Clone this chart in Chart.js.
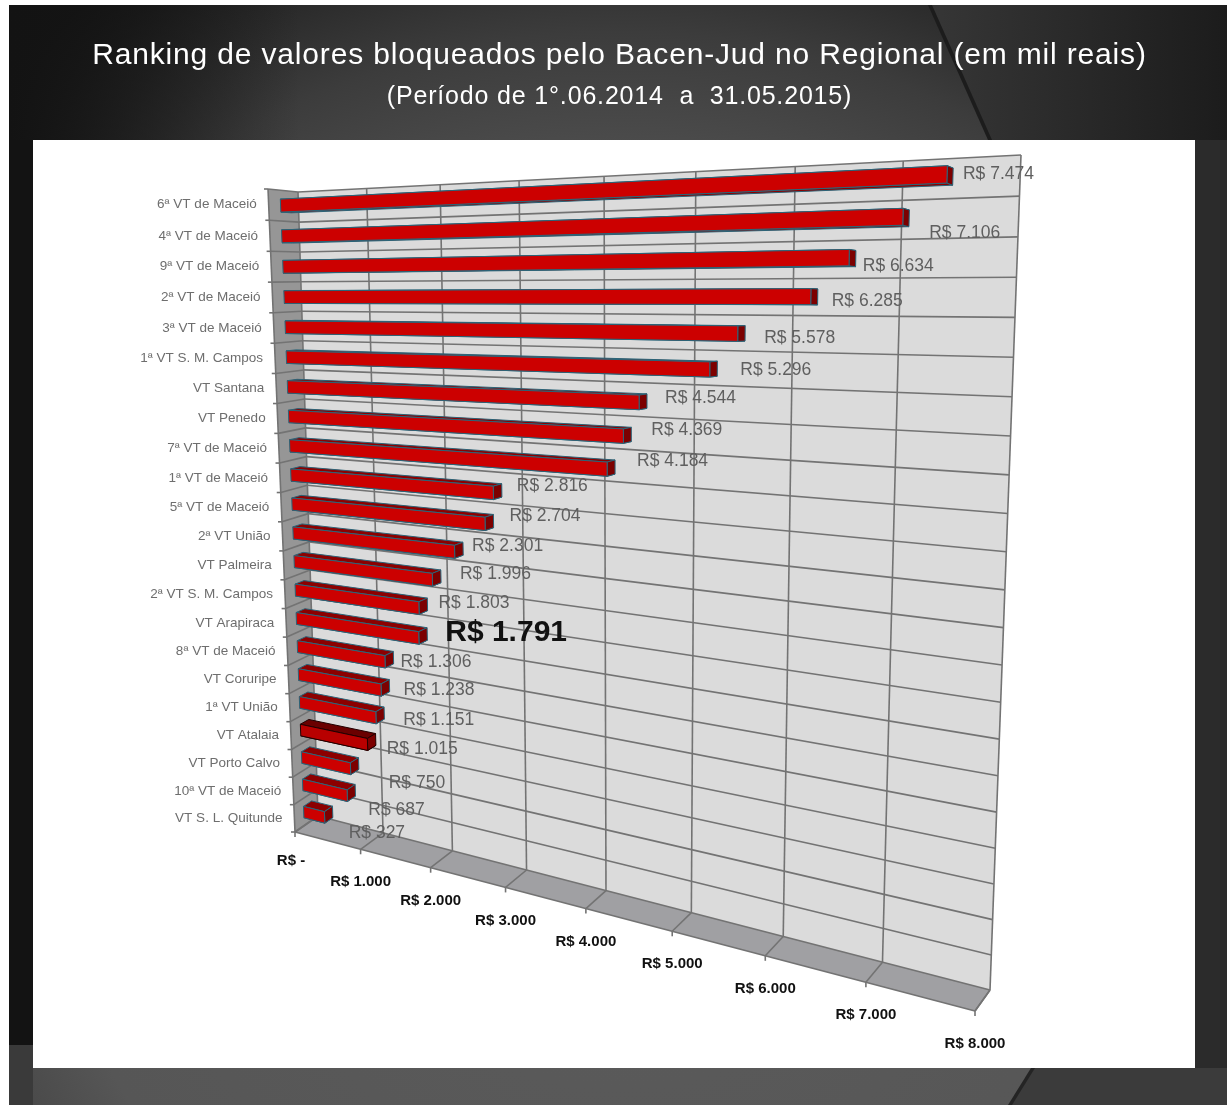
<!DOCTYPE html>
<html>
<head>
<meta charset="utf-8">
<title>Ranking Bacen-Jud</title>
<script src="https://cdn.jsdelivr.net/npm/chart.js@4"></script>
<style>
  html, body { margin: 0; padding: 0; background: #fff; overflow: hidden; }
  canvas { display: block; filter: blur(0.5px); }
</style>
</head>
<body>
<canvas id="rankingChart" width="1227" height="1105"></canvas>
<script>
const categories = ['6ª VT de Maceió', '4ª VT de Maceió', '9ª VT de Maceió', '2ª VT de Maceió', '3ª VT de Maceió', '1ª VT S. M. Campos', 'VT Santana', 'VT Penedo', '7ª VT de Maceió', '1ª VT de Maceió', '5ª VT de Maceió', '2ª VT União', 'VT Palmeira', '2ª VT S. M. Campos', 'VT Arapiraca', '8ª VT de Maceió', 'VT Coruripe', '1ª VT União', 'VT Atalaia', 'VT Porto Calvo', '10ª VT de Maceió', 'VT S. L. Quitunde'];
const values = [7474, 7106, 6634, 6285, 5578, 5296, 4544, 4369, 4184, 2816, 2704, 2301, 1996, 1803, 1791, 1306, 1238, 1151, 1015, 750, 687, 327];
const valueLabels = ['R$ 7.474', 'R$ 7.106', 'R$ 6.634', 'R$ 6.285', 'R$ 5.578', 'R$ 5.296', 'R$ 4.544', 'R$ 4.369', 'R$ 4.184', 'R$ 2.816', 'R$ 2.704', 'R$ 2.301', 'R$ 1.996', 'R$ 1.803', 'R$ 1.791', 'R$ 1.306', 'R$ 1.238', 'R$ 1.151', 'R$ 1.015', 'R$ 750', 'R$ 687', 'R$ 327'];
const xTickLabels = ['R$ -', 'R$ 1.000', 'R$ 2.000', 'R$ 3.000', 'R$ 4.000', 'R$ 5.000', 'R$ 6.000', 'R$ 7.000', 'R$ 8.000'];

// label offset from the bar end, the labels are hand placed in the original
const labelNudgeX = [10, 20, 7, 14, 19, 23, 18, 20, 22, 15, 16, 9, 19, 11, 18, 7, 14, 19, 11, 30, 13, 16];
const labelNudgeY = [-3, 15, 8, 4, 5, 1, -3, -4, -6, -4, -5, -3, -2, -1, -1, 5, 5, 7, 10, 20, 20, 21];
const boldLabel = 14;
const darkBar = 18;

const font = 'Liberation Sans';

// 3d box corners on the page: TL, TR, BR, BL
const wallQuad = [[298, 192], [1021, 155], [990, 990], [318, 816]];
const frontQuad = [[268, 189], [1006, 147], [975, 1011], [295, 832]];
const barFront = 0.6;
const barBack = 0.25;

function homography(q) {
    const [p0, p1, p2, p3] = q;
    const sx = p0[0] - p1[0] + p2[0] - p3[0], sy = p0[1] - p1[1] + p2[1] - p3[1];
    const dx1 = p1[0] - p2[0], dx2 = p3[0] - p2[0], dy1 = p1[1] - p2[1], dy2 = p3[1] - p2[1];
    const det = dx1 * dy2 - dx2 * dy1;
    const g = (sx * dy2 - dx2 * sy) / det, h = (dx1 * sy - sx * dy1) / det;
    const a = p1[0] - p0[0] + g * p1[0], b = p3[0] - p0[0] + h * p3[0];
    const d = p1[1] - p0[1] + g * p1[1], e = p3[1] - p0[1] + h * p3[1];
    return (u, v) => {
        const w = 1 + g * u + h * v;
        return [(a * u + b * v + p0[0]) / w, (d * u + e * v + p0[1]) / w];
    };
}

function planeAt(depth) {
    return homography(wallQuad.map((p, i) => [
        p[0] + (frontQuad[i][0] - p[0]) * depth,
        p[1] + (frontQuad[i][1] - p[1]) * depth
    ]));
}

const wall = planeAt(0);
const front = planeAt(1);
const barPlaneFront = planeAt(barFront);
const barPlaneBack = planeAt(barBack);

let area = null;
const flatU = (px) => (px - area.left) / (area.right - area.left);
const flatV = (py) => (py - area.top) / (area.bottom - area.top);

function fillPoly(ctx, pts, fill, stroke) {
    ctx.beginPath();
    pts.forEach((p, i) => i ? ctx.lineTo(p[0], p[1]) : ctx.moveTo(p[0], p[1]));
    ctx.closePath();
    if (fill) { ctx.fillStyle = fill; ctx.fill(); }
    if (stroke) { ctx.strokeStyle = stroke; ctx.stroke(); }
}

function line(ctx, a, b) {
    ctx.beginPath();
    ctx.moveTo(a[0], a[1]);
    ctx.lineTo(b[0], b[1]);
    ctx.stroke();
}

// bars keep their scale based geometry, only the drawing goes through the projection
Chart.BarElement.prototype.draw = function (ctx) {
    const { x, y, base, height } = this.getProps(['x', 'y', 'base', 'height']);
    const u0 = flatU(base), u1 = flatU(x);
    const v0 = flatV(y - height / 2), v1 = flatV(y + height / 2);
    const f = barPlaneFront, b = barPlaneBack;
    const main = this.options.backgroundColor;
    const edge = this.options.borderColor;
    const shade = main === '#b80000' ? '#6a0000' : '#8c0000';
    ctx.save();
    ctx.lineWidth = 1;
    ctx.lineJoin = 'round';
    fillPoly(ctx, [b(u0, v1), b(u1, v1), f(u1, v1), f(u0, v1)], shade, edge);
    fillPoly(ctx, [b(u0, v0), b(u1, v0), f(u1, v0), f(u0, v0)], shade, edge);
    fillPoly(ctx, [f(u1, v0), b(u1, v0), b(u1, v1), f(u1, v1)], '#7c0000', edge);
    fillPoly(ctx, [f(u0, v0), f(u1, v0), f(u1, v1), f(u0, v1)], main, edge);
    ctx.restore();
};

const backdrop = {
    id: 'backdrop',
    beforeDraw(chart) {
        const ctx = chart.ctx;
        ctx.save();
        ctx.fillStyle = '#fff';
        ctx.fillRect(0, 0, 1227, 1105);
        const g = ctx.createRadialGradient(620, 800, 0, 620, 800, 960);
        g.addColorStop(0, '#5c5c5c');
        g.addColorStop(0.6, '#565656');
        g.addColorStop(0.8, '#3c3c3c');
        g.addColorStop(1, '#161616');
        ctx.fillStyle = g;
        ctx.fillRect(9, 5, 1218, 1100);
        const corner = ctx.createLinearGradient(9, 0, 300, 0);
        corner.addColorStop(0, 'rgba(19,19,19,1)');
        corner.addColorStop(1, 'rgba(19,19,19,0)');
        ctx.fillStyle = corner;
        ctx.fillRect(9, 5, 291, 135);
        ctx.fillStyle = '#131313';
        ctx.fillRect(9, 140, 24, 905);
        ctx.fillStyle = '#3a3a3a';
        ctx.fillRect(9, 1045, 24, 60);
        ctx.fillStyle = '#2b2b2b';
        ctx.fillRect(1195, 130, 32, 975);
        const t = ctx.createLinearGradient(930, 0, 1227, 0);
        t.addColorStop(0, '#363636');
        t.addColorStop(1, '#1c1c1c');
        fillPoly(ctx, [[930, 5], [1227, 5], [1227, 140], [990, 140]], t);
        fillPoly(ctx, [[928, 5], [932, 5], [992, 140], [988, 140]], '#1c1c1c');
        fillPoly(ctx, [[1033, 1068], [1227, 1068], [1227, 1105], [1010, 1105]], '#3b3b3b');
        fillPoly(ctx, [[1031, 1068], [1035, 1068], [1012, 1105], [1008, 1105]], '#242424');
        ctx.fillStyle = '#fff';
        ctx.fillRect(33, 140, 1162, 928);
        ctx.restore();
        // the slide title is spaced out a bit
        ctx.letterSpacing = '0.83px';
    }
};

const box3d = {
    id: 'box3d',
    beforeDatasetsDraw(chart) {
        const ctx = chart.ctx, xs = chart.scales.x;
        ctx.letterSpacing = '0px';
        area = chart.chartArea;
        const rows = categories.length;
        ctx.save();
        fillPoly(ctx, [front(0, 0), wall(0, 0), wall(0, 1), front(0, 1)], '#969696');
        fillPoly(ctx, [wall(0, 1), wall(1, 1), front(1, 1), front(0, 1)], '#a0a0a3');
        fillPoly(ctx, [wall(0, 0), wall(1, 0), wall(1, 1), wall(0, 1)], '#dbdbdb');
        ctx.strokeStyle = '#737373';
        ctx.lineWidth = 1.6;
        for (let i = 0; i <= rows; i++) {
            const v = i / rows;
            line(ctx, wall(0, v), wall(1, v));
            const f = front(0, v);
            line(ctx, wall(0, v), f);
            line(ctx, f, [f[0] - 4, f[1]]);
        }
        xs.ticks.forEach((t, i) => {
            const u = flatU(xs.getPixelForTick(i));
            line(ctx, wall(u, 0), wall(u, 1));
            const f = front(u, 1);
            line(ctx, wall(u, 1), f);
            line(ctx, f, [f[0], f[1] + 5]);
        });
        line(ctx, front(0, 0), front(0, 1));
        line(ctx, front(0, 1), front(1, 1));
        line(ctx, wall(1, 1), front(1, 1));
        ctx.restore();
    },
    afterDatasetsDraw(chart) {
        const ctx = chart.ctx, xs = chart.scales.x, ys = chart.scales.y;
        ctx.save();
        ctx.textBaseline = 'middle';

        // category labels
        ctx.textAlign = 'right';
        ctx.font = '13.5px "' + font + '"';
        ctx.fillStyle = '#6e6e6e';
        categories.forEach((c, i) => {
            const p = front(0, flatV(ys.getPixelForValue(i)));
            ctx.fillText(c, p[0] - 12, p[1]);
        });

        // value axis labels
        ctx.textAlign = 'center';
        ctx.font = 'bold 15px "' + font + '"';
        ctx.fillStyle = '#111';
        xs.ticks.forEach((t, i) => {
            const p = front(flatU(xs.getPixelForTick(i)), 1);
            ctx.fillText(xTickLabels[i], p[0] + (i === 0 ? -4 : 0), p[1] + (i === 0 ? 29 : 33));
        });

        // value labels
        ctx.textAlign = 'left';
        values.forEach((val, i) => {
            const u = flatU(xs.getPixelForValue(val));
            const v = flatV(ys.getPixelForValue(i));
            const end = barPlaneBack(u, v);
            if (i === boldLabel) {
                ctx.font = 'bold 30px "' + font + '"';
                ctx.fillStyle = '#111';
            } else {
                ctx.font = '17.5px "' + font + '"';
                ctx.fillStyle = '#5f5f5f';
            }
            ctx.fillText(valueLabels[i], end[0] + labelNudgeX[i], end[1] + labelNudgeY[i]);
        });
        ctx.restore();
    }
};

new Chart(document.getElementById('rankingChart'), {
    type: 'bar',
    data: {
        labels: categories,
        datasets: [{
            data: values,
            clip: false,
            backgroundColor: values.map((v, i) => i === darkBar ? '#b80000' : '#cc0000'),
            borderColor: values.map((v, i) => i === darkBar ? '#220000' : '#2a6478'),
            borderWidth: 1,
            barPercentage: 0.42,
            categoryPercentage: 1
        }]
    },
    plugins: [backdrop, box3d],
    options: {
        indexAxis: 'y',
        responsive: false,
        animation: false,
        layout: { padding: { top: 21, left: 12, right: 0, bottom: 40 } },
        scales: {
            x: { display: false, min: 0, max: 8000, ticks: { stepSize: 1000 } },
            y: { display: false }
        },
        plugins: {
            legend: { display: false },
            tooltip: { enabled: false },
            title: {
                display: true,
                text: 'Ranking de valores bloqueados pelo Bacen-Jud no Regional (em mil reais)',
                color: '#fff',
                font: { family: font, size: 30, weight: 'normal' },
                padding: { top: 17, bottom: 8 }
            },
            subtitle: {
                display: true,
                text: '(Período de 1°.06.2014  a  31.05.2015)',
                color: '#fff',
                font: { family: font, size: 25, weight: 'normal' },
                padding: { top: 0, bottom: 10 }
            }
        }
    }
});
</script>
</body>
</html>
